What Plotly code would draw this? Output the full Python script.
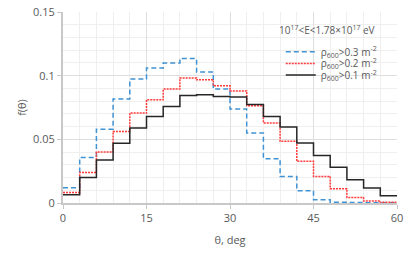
import plotly.graph_objects as go

# bin edges (deg)
theta_edges = [0, 3, 6, 9, 12, 15, 18, 21, 24, 27, 30, 33, 36, 39, 42, 45, 48, 51, 54, 57, 60]

f_03 = [0.012, 0.0358, 0.058, 0.0816, 0.0973, 0.106, 0.110, 0.1135, 0.1028, 0.0895,
        0.0738, 0.055, 0.0348, 0.0209, 0.0097, 0.0026, 0.0005, 0.0003, 0.0002, 0.0001]
f_02 = [0.0083, 0.024, 0.040, 0.0562, 0.0706, 0.0811, 0.0895, 0.0981, 0.0968, 0.0921,
        0.088, 0.0764, 0.0628, 0.0484, 0.0327, 0.0209, 0.0112, 0.0044, 0.0016, 0.0005]
f_01 = [0.0065, 0.020, 0.0337, 0.047, 0.0589, 0.068, 0.0758, 0.0845, 0.085, 0.0837,
        0.0832, 0.0774, 0.068, 0.0597, 0.0471, 0.0374, 0.028, 0.0183, 0.0118, 0.0057]

names = ["ρ<sub>600</sub>>0.3 m<sup>-2</sup>",
         "ρ<sub>600</sub>>0.2 m<sup>-2</sup>",
         "ρ<sub>600</sub>>0.1 m<sup>-2</sup>"]
colors = ["#3f93d4", "#ff3b3b", "#262626"]
dashes = ["5px,3px", "2px,1px", "solid"]
legend_title = "10<sup>17</sup>&lt;E&lt;1.78×10<sup>17</sup> eV"

FONT = "Open Sans"
GRAY = "#595959"

legend_ids = ["legend2", "legend3", "legend4"]
legend_y = [0.792, 0.731, 0.670]

fig = go.Figure()
for y, n, c, d, lid in zip([f_03, f_02, f_01], names, colors, dashes, legend_ids):
    fig.add_trace(go.Scatter(
        x=theta_edges, y=y + [y[-1]], mode="lines", name=n, legend=lid,
        showlegend=True,
        line=dict(shape="hv", color=c, width=1.5, dash=d),
    ))

legend_common = dict(
    x=0.652, xanchor="left", yanchor="middle",
    bgcolor="rgba(0,0,0,0)", font=dict(size=10, color=GRAY),
    itemwidth=30,
)

fig.update_layout(
    width=415, height=257,
    margin=dict(l=63, r=18, t=12, b=54),
    paper_bgcolor="white", plot_bgcolor="white",
    font=dict(family=FONT, size=11, color=GRAY),
    showlegend=True,
    legend2=dict(y=legend_y[0], **legend_common),
    legend3=dict(y=legend_y[1], **legend_common),
    legend4=dict(y=legend_y[2], **legend_common),
    annotations=[dict(
        text=legend_title, xref="paper", yref="paper", x=0.79, y=0.906,
        xanchor="center", yanchor="middle", showarrow=False,
        font=dict(size=10, color=GRAY),
    )],
    xaxis=dict(
        range=[0, 60], tickmode="array", tickvals=[0, 15, 30, 45, 60],
        showgrid=True, gridcolor="#dedede", gridwidth=1,
        minor=dict(dtick=3, showgrid=True, gridcolor="#efefef", ticks=""),
        showline=True, linecolor="#c8c8c8", linewidth=2,
        ticks="outside", ticklen=4, tickcolor="#c8c8c8",
        zeroline=False, automargin=False,
        title=dict(text="θ, deg", standoff=12, font=dict(size=11, color=GRAY)),
    ),
    yaxis=dict(
        range=[0, 0.15], tickmode="array", tickvals=[0, 0.05, 0.1, 0.15],
        ticktext=["0", "0.05", "0.1", "0.15"],
        showgrid=True, gridcolor="#dedede", gridwidth=1,
        minor=dict(dtick=0.01, showgrid=True, gridcolor="#efefef", ticks=""),
        showline=True, linecolor="#c8c8c8", linewidth=2,
        ticks="outside", ticklen=4, tickcolor="#c8c8c8",
        zeroline=False, automargin=False,
        title=dict(text="f(θ)", standoff=4, font=dict(size=11, color=GRAY)),
    ),
)

fig.write_html("out.html", config={"displayModeBar": False},
               post_script="document.body.style.margin='0';")
